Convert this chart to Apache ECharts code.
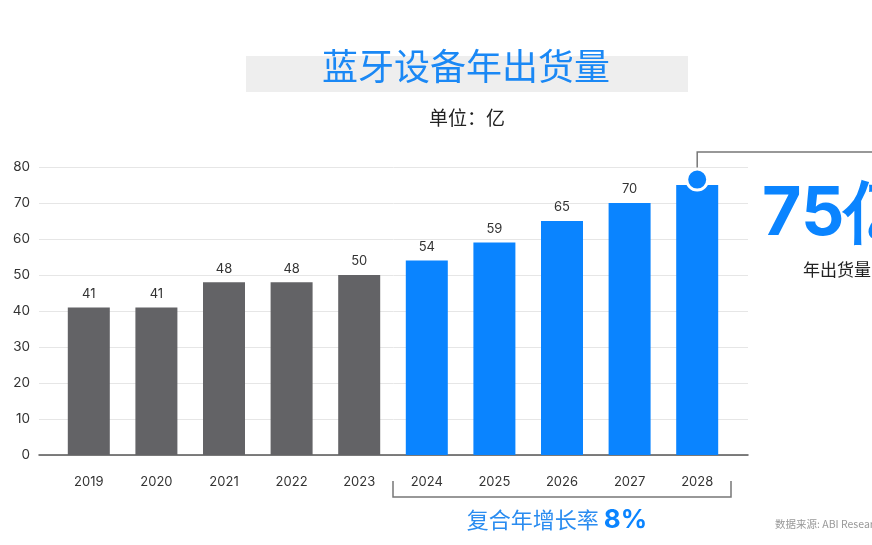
<!DOCTYPE html>
<html><head><meta charset="utf-8">
<script src="https://cdn.jsdelivr.net/npm/echarts@6/dist/echarts.min.js"></script>
<style>html,body{margin:0;padding:0;background:#fff}#c{width:872px;height:545px}</style>
</head><body><div id="c"></div>
<script>
const years = ['2019','2020','2021','2022','2023','2024','2025','2026','2027','2028'];
const shipments = [41, 41, 48, 48, 50, 54, 59, 65, 70, 75];
const forecastFrom = '2024';
const yTicks = [0, 10, 20, 30, 40, 50, 60, 70, 80];
const titleText = '蓝牙设备年出货量';
const unitText = '单位：亿';
const cagrLabel = '复合年增长率 ';
const cagrValue = '8%';
const highlightLabel = '年出货量';
const sourceText = '数据来源: ABI Research';

const GRAY = '#636366', BLUE = '#0a84ff';
const fontLatin = 'Inter, "Noto Sans", sans-serif';
const fontCJK = '"Noto Sans CJK SC", sans-serif';
const fi = years.indexOf(forecastFrom);
const lastIdx = years.length - 1;

const chart = echarts.init(document.getElementById('c'));
const option = {
  animation: false,
  backgroundColor: '#fff',
  grid: [
    {left: 39, right: 124, top: 167, bottom: 90},
    {left: 55, right: 141, top: 167, bottom: 90}
  ],
  xAxis: [
    {gridIndex: 0, type: 'value', min: 0, max: 1, show: true,
     axisLine: {show: true, lineStyle: {color: '#555', width: 1.5}},
     axisTick: {show: false}, axisLabel: {show: false}, splitLine: {show: false}},
    {gridIndex: 1, type: 'category', data: years,
     axisLine: {show: false}, axisTick: {show: false},
     axisLabel: {margin: 21, color: '#333', fontSize: 13, fontFamily: fontLatin}}
  ],
  yAxis: [
    {gridIndex: 0, type: 'value', min: yTicks[0], max: yTicks[yTicks.length-1], interval: 10,
     axisLine: {show: false}, axisTick: {show: false},
     axisLabel: {margin: 9, color: '#333', fontSize: 13.5, fontFamily: fontLatin},
     splitLine: {show: true, lineStyle: {color: '#e6e6e6', width: 1}}},
    {gridIndex: 1, type: 'value', min: yTicks[0], max: yTicks[yTicks.length-1], interval: 10,
     show: false, splitLine: {show: false}}
  ],
  series: [{
    type: 'bar', xAxisIndex: 1, yAxisIndex: 1, barWidth: 42,
    data: shipments.map((v, i) => ({
      value: v,
      itemStyle: {color: i >= fi ? BLUE : GRAY},
      label: {show: i !== lastIdx}
    })),
    label: {show: true, position: 'top', distance: 7, color: '#333', fontSize: 13, fontFamily: fontLatin},
    markPoint: {
      symbol: 'circle', symbolSize: 21, silent: true,
      itemStyle: {color: BLUE, borderColor: '#fff', borderWidth: 3},
      label: {show: false},
      data: [{coord: [years[lastIdx], shipments[lastIdx] + 1.5]}]
    }
  }]
};
chart.setOption(option);

// annotations built from scale conversion
const p0 = chart.convertToPixel({xAxisIndex: 1, yAxisIndex: 1}, [fi, 0]);
const p1 = chart.convertToPixel({xAxisIndex: 1, yAxisIndex: 1}, [lastIdx, 0]);
const band = (p1[0] - p0[0]) / (lastIdx - fi);
const bx0 = p0[0] - band / 2, bx1 = p1[0] + band / 2;
const markPx = chart.convertToPixel({xAxisIndex: 1, yAxisIndex: 1}, [lastIdx, shipments[lastIdx] + 1.5]);

chart.setOption({
  graphic: [
    {type: 'rect', shape: {x: 246, y: 56, width: 442, height: 36}, style: {fill: '#eeeeee'}, z: 1},
    {type: 'text', x: 466, y: 66, z: 2, style: {text: titleText, fill: '#1a88f5', font: '36px ' + fontCJK, textAlign: 'center', textVerticalAlign: 'middle'}},
    {type: 'text', x: 467, y: 118, z: 2, style: {text: unitText, fill: '#222', font: '19px ' + fontCJK, textAlign: 'center', textVerticalAlign: 'middle'}},
    {type: 'polyline', z: 3, shape: {points: [[bx0, 481], [bx0, 497], [bx1, 497], [bx1, 481]]}, style: {stroke: '#777', lineWidth: 1.5, fill: null}},
    {type: 'text', x: (bx0 + bx1) / 2 - 5, y: 520, z: 3, style: {
      rich: {a: {fill: '#2a8cf0', font: '22px ' + fontCJK}, b: {fill: BLUE, font: 'bold 26px ' + fontLatin}},
      text: '{a|' + cagrLabel + '}{b|' + cagrValue + '}', textAlign: 'center', textVerticalAlign: 'middle'}},
    {type: 'polyline', z: 0, shape: {points: [[markPx[0], markPx[1]], [markPx[0], 152], [872, 152]]}, style: {stroke: '#777', lineWidth: 1.5, fill: null}},
    {type: 'text', x: 762, y: 215, z: 3, style: {text: shipments[lastIdx] + '亿', fill: BLUE, font: 'bold 68px ' + fontLatin, textAlign: 'left', textVerticalAlign: 'middle'}},
    {type: 'text', x: 803, y: 270, z: 3, style: {text: highlightLabel, fill: '#222', font: '17px ' + fontCJK, textAlign: 'left', textVerticalAlign: 'middle'}},
    {type: 'text', x: 775, y: 524, z: 3, style: {text: sourceText, fill: '#999', font: '10.5px ' + fontCJK, textAlign: 'left', textVerticalAlign: 'middle'}}
  ]
});
</script></body></html>
